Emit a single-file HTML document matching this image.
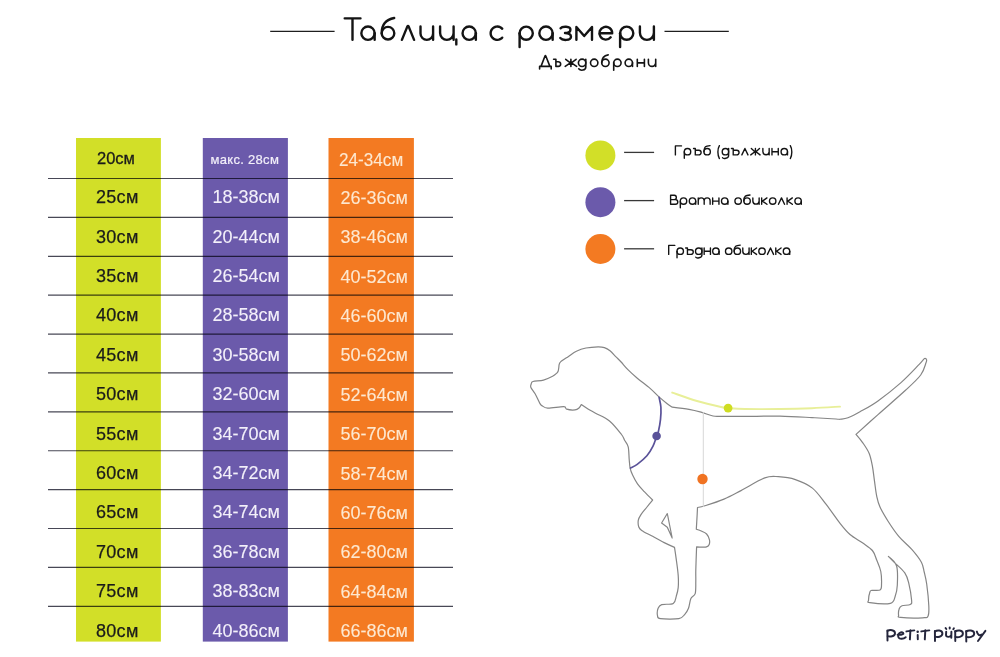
<!DOCTYPE html><html><head><meta charset="utf-8"><style>
*{margin:0;padding:0;box-sizing:border-box}
html,body{width:1000px;height:657px;background:#fff;overflow:hidden}
body{position:relative;font-family:"Liberation Sans",sans-serif}
.abs{position:absolute}
</style></head><body>
<svg class="abs" style="left:0;top:0" width="1000" height="657" viewBox="0 0 1000 657">
<rect x="76" y="138.0" width="84.9" height="503.6" fill="#d2df28"/>
<rect x="202.8" y="138.0" width="85.1" height="503.6" fill="#6b5aab"/>
<rect x="328.5" y="138.0" width="85.4" height="503.6" fill="#f37a22"/>
<line x1="48" y1="178.50" x2="453" y2="178.50" stroke="#484856" stroke-width="1.2" style="mix-blend-mode:multiply"/>
<line x1="48" y1="217.39" x2="453" y2="217.39" stroke="#484856" stroke-width="1.2" style="mix-blend-mode:multiply"/>
<line x1="48" y1="256.28" x2="453" y2="256.28" stroke="#484856" stroke-width="1.2" style="mix-blend-mode:multiply"/>
<line x1="48" y1="295.17" x2="453" y2="295.17" stroke="#484856" stroke-width="1.2" style="mix-blend-mode:multiply"/>
<line x1="48" y1="334.06" x2="453" y2="334.06" stroke="#484856" stroke-width="1.2" style="mix-blend-mode:multiply"/>
<line x1="48" y1="372.95" x2="453" y2="372.95" stroke="#484856" stroke-width="1.2" style="mix-blend-mode:multiply"/>
<line x1="48" y1="411.84" x2="453" y2="411.84" stroke="#484856" stroke-width="1.2" style="mix-blend-mode:multiply"/>
<line x1="48" y1="450.73" x2="453" y2="450.73" stroke="#484856" stroke-width="1.2" style="mix-blend-mode:multiply"/>
<line x1="48" y1="489.62" x2="453" y2="489.62" stroke="#484856" stroke-width="1.2" style="mix-blend-mode:multiply"/>
<line x1="48" y1="528.51" x2="453" y2="528.51" stroke="#484856" stroke-width="1.2" style="mix-blend-mode:multiply"/>
<line x1="48" y1="567.40" x2="453" y2="567.40" stroke="#484856" stroke-width="1.2" style="mix-blend-mode:multiply"/>
<line x1="48" y1="606.29" x2="453" y2="606.29" stroke="#484856" stroke-width="1.2" style="mix-blend-mode:multiply"/>
<line x1="270.2" y1="31.4" x2="334.6" y2="31.4" stroke="#1e1e1e" stroke-width="1.25"/>
<line x1="664.5" y1="31.4" x2="728.8" y2="31.4" stroke="#1e1e1e" stroke-width="1.25"/>
<line x1="624.1" y1="152.4" x2="654.1" y2="152.4" stroke="#383838" stroke-width="1.3"/>
<line x1="624.1" y1="200.6" x2="654.1" y2="200.6" stroke="#383838" stroke-width="1.3"/>
<line x1="624.1" y1="248.8" x2="654.1" y2="248.8" stroke="#383838" stroke-width="1.3"/>
<circle cx="600.4" cy="155.4" r="15" fill="#d2df28"/>
<circle cx="600.4" cy="202.2" r="15" fill="#6b5aab"/>
<circle cx="600.4" cy="249.0" r="15" fill="#f37a22"/>
<g transform="translate(0,0.4)" fill="none" stroke="#141414" stroke-width="2.40" stroke-linecap="round" stroke-linejoin="round"><path d="M344.7 17.95 L360.5 17.95 M352.5 17.95 L352.5 39.45"/><circle cx="368.00" cy="32.80" r="6.65"/><path d="M374.65 32.80 L374.65 39.45"/><circle cx="388.00" cy="32.80" r="6.30"/><path d="M381.7 33 C381.6 24.5 385.5 19.2 394.2 17.6"/><path d="M401.9 39.45 L407.3 26.2 Q408 24.9 408.7 26.2 L414.1 39.45"/><path d="M420.50 26.15 L420.50 33.15 A6.30 6.30 0 0 0 433.10 33.15 M433.10 26.15 L433.10 39.45"/><path d="M440.10 26.15 L440.10 32.70 A6.75 6.75 0 0 0 453.60 32.70 M453.60 26.15 L453.60 39.45 M456.30 38.95 L456.30 44.00"/><circle cx="469.20" cy="32.80" r="6.65"/><path d="M475.85 32.80 L475.85 39.45"/><path d="M502.24 37.25 L501.26 38.15 L500.11 38.83 L498.85 39.27 L497.53 39.45 L496.20 39.36 L494.92 39.01 L493.73 38.41 L492.68 37.58 L491.82 36.57 L491.18 35.40 L490.78 34.13 L490.65 32.80 L490.78 31.47 L491.18 30.20 L491.82 29.03 L492.68 28.02 L493.73 27.19 L494.92 26.59 L496.20 26.24 L497.53 26.15 L498.85 26.33 L500.11 26.77 L501.26 27.45 L502.24 28.35"/><circle cx="526.20" cy="32.80" r="6.60"/><path d="M519.60 32.80 L519.60 46.70"/><circle cx="546.00" cy="32.80" r="6.65"/><path d="M552.65 32.80 L552.65 39.45"/><path d="M560.6 27.8 C562 25.9 570.6 25.2 570.4 29.4 C570.2 31.9 567.2 32.6 565.0 32.6 C568.2 32.6 571.1 33.8 571.0 36.3 C570.8 40.3 562.4 40.4 560.3 37.6"/><path d="M576.4 39.45 L576.4 26.6 L584.2 35.6 L592.0 26.6 L592.0 39.45"/><path d="M599.40 32.80 L612.20 32.80 A6.40 6.40 0 1 0 610.70 36.91"/><circle cx="626.70" cy="32.80" r="6.60"/><path d="M620.10 32.80 L620.10 46.70"/><path d="M639.90 26.15 L639.90 32.45 A7.00 7.00 0 0 0 653.90 32.45 M653.90 26.15 L653.90 39.45"/></g>
<g fill="none" stroke="#141414" stroke-width="1.60" stroke-linecap="round" stroke-linejoin="round"><path d="M541.0 66.40 L545.0 56.0 Q545.4 55.2 545.8 56.0 L549.9 66.40 M539.6 69.0 L539.6 66.40 L551.2 66.40 L551.2 69.0"/><path d="M553.6 59.30 L555.9 59.30 L555.9 66.40 L558.3 66.40 A2.35 2.35 0 0 0 558.3 61.70 L555.9 61.70"/><path d="M570.9 59.30 L570.9 66.40 M565.7 59.30 L570.4 62.85 L565.2 66.40 M576.1 59.30 L571.4 62.85 L576.6 66.40"/><circle cx="582.10" cy="62.85" r="3.70"/><path d="M585.8 59.30 L585.8 67.0 C585.8 70.6 580.4 71.0 578.7 68.8"/><circle cx="594.20" cy="62.85" r="3.70"/><circle cx="605.40" cy="62.85" r="3.70"/><path d="M601.7 63.0 C601.7 58.2 604.0 55.5 608.2 54.9"/><circle cx="617.40" cy="62.85" r="3.70"/><path d="M613.7 62.85 L613.7 70.20"/><circle cx="628.80" cy="62.85" r="3.70"/><path d="M632.5 62.85 L632.5 66.40"/><path d="M637.3 59.30 L637.3 66.40 M644.4 59.30 L644.4 66.40 M637.3 62.85 L644.4 62.85"/><path d="M648.4 59.30 L648.4 62.75 A3.65 3.65 0 0 0 655.7 62.75 M655.7 59.30 L655.7 66.40"/></g>
</svg>
<div class="abs" style="left:97.00px;top:149.53px;font-size:16.50px;line-height:16.50px;color:#1b1b1b;letter-spacing:0.00px;white-space:nowrap;-webkit-text-stroke:0.3px #1b1b1b;">20см</div>
<div class="abs" style="left:210.50px;top:153.00px;font-size:13.00px;line-height:13.00px;color:#f3f0fa;letter-spacing:0.30px;white-space:nowrap;-webkit-text-stroke:0.2px #f3f0fa;">макс. 28см</div>
<div class="abs" style="left:339.40px;top:150.56px;font-size:18.00px;line-height:18.00px;color:#fde8d0;letter-spacing:0.00px;white-space:nowrap;transform:scaleX(0.952);transform-origin:0 0;-webkit-text-stroke:0.1px #fde8d0;">24-34см</div>
<div class="abs" style="left:96.00px;top:188.26px;font-size:18.00px;line-height:18.00px;color:#1b1b1b;letter-spacing:0.30px;white-space:nowrap;-webkit-text-stroke:0.25px #1b1b1b;">25см</div>
<div class="abs" style="left:212.40px;top:188.26px;font-size:18.00px;line-height:18.00px;color:#f3f0fa;letter-spacing:0.00px;white-space:nowrap;-webkit-text-stroke:0.1px #f3f0fa;">18-38см</div>
<div class="abs" style="left:340.40px;top:188.76px;font-size:18.00px;line-height:18.00px;color:#fde8d0;letter-spacing:0.00px;white-space:nowrap;-webkit-text-stroke:0.1px #fde8d0;">26-36см</div>
<div class="abs" style="left:96.00px;top:227.66px;font-size:18.00px;line-height:18.00px;color:#1b1b1b;letter-spacing:0.30px;white-space:nowrap;-webkit-text-stroke:0.25px #1b1b1b;">30см</div>
<div class="abs" style="left:212.40px;top:227.66px;font-size:18.00px;line-height:18.00px;color:#f3f0fa;letter-spacing:0.00px;white-space:nowrap;-webkit-text-stroke:0.1px #f3f0fa;">20-44см</div>
<div class="abs" style="left:340.40px;top:228.16px;font-size:18.00px;line-height:18.00px;color:#fde8d0;letter-spacing:0.00px;white-space:nowrap;-webkit-text-stroke:0.1px #fde8d0;">38-46см</div>
<div class="abs" style="left:96.00px;top:267.06px;font-size:18.00px;line-height:18.00px;color:#1b1b1b;letter-spacing:0.30px;white-space:nowrap;-webkit-text-stroke:0.25px #1b1b1b;">35см</div>
<div class="abs" style="left:212.40px;top:267.06px;font-size:18.00px;line-height:18.00px;color:#f3f0fa;letter-spacing:0.00px;white-space:nowrap;-webkit-text-stroke:0.1px #f3f0fa;">26-54см</div>
<div class="abs" style="left:340.40px;top:267.56px;font-size:18.00px;line-height:18.00px;color:#fde8d0;letter-spacing:0.00px;white-space:nowrap;-webkit-text-stroke:0.1px #fde8d0;">40-52см</div>
<div class="abs" style="left:96.00px;top:306.46px;font-size:18.00px;line-height:18.00px;color:#1b1b1b;letter-spacing:0.30px;white-space:nowrap;-webkit-text-stroke:0.25px #1b1b1b;">40см</div>
<div class="abs" style="left:212.40px;top:306.46px;font-size:18.00px;line-height:18.00px;color:#f3f0fa;letter-spacing:0.00px;white-space:nowrap;-webkit-text-stroke:0.1px #f3f0fa;">28-58см</div>
<div class="abs" style="left:340.40px;top:306.96px;font-size:18.00px;line-height:18.00px;color:#fde8d0;letter-spacing:0.00px;white-space:nowrap;-webkit-text-stroke:0.1px #fde8d0;">46-60см</div>
<div class="abs" style="left:96.00px;top:345.86px;font-size:18.00px;line-height:18.00px;color:#1b1b1b;letter-spacing:0.30px;white-space:nowrap;-webkit-text-stroke:0.25px #1b1b1b;">45см</div>
<div class="abs" style="left:212.40px;top:345.86px;font-size:18.00px;line-height:18.00px;color:#f3f0fa;letter-spacing:0.00px;white-space:nowrap;-webkit-text-stroke:0.1px #f3f0fa;">30-58см</div>
<div class="abs" style="left:340.40px;top:346.36px;font-size:18.00px;line-height:18.00px;color:#fde8d0;letter-spacing:0.00px;white-space:nowrap;-webkit-text-stroke:0.1px #fde8d0;">50-62см</div>
<div class="abs" style="left:96.00px;top:385.26px;font-size:18.00px;line-height:18.00px;color:#1b1b1b;letter-spacing:0.30px;white-space:nowrap;-webkit-text-stroke:0.25px #1b1b1b;">50см</div>
<div class="abs" style="left:212.40px;top:385.26px;font-size:18.00px;line-height:18.00px;color:#f3f0fa;letter-spacing:0.00px;white-space:nowrap;-webkit-text-stroke:0.1px #f3f0fa;">32-60см</div>
<div class="abs" style="left:340.40px;top:385.76px;font-size:18.00px;line-height:18.00px;color:#fde8d0;letter-spacing:0.00px;white-space:nowrap;-webkit-text-stroke:0.1px #fde8d0;">52-64см</div>
<div class="abs" style="left:96.00px;top:424.66px;font-size:18.00px;line-height:18.00px;color:#1b1b1b;letter-spacing:0.30px;white-space:nowrap;-webkit-text-stroke:0.25px #1b1b1b;">55см</div>
<div class="abs" style="left:212.40px;top:424.66px;font-size:18.00px;line-height:18.00px;color:#f3f0fa;letter-spacing:0.00px;white-space:nowrap;-webkit-text-stroke:0.1px #f3f0fa;">34-70см</div>
<div class="abs" style="left:340.40px;top:425.16px;font-size:18.00px;line-height:18.00px;color:#fde8d0;letter-spacing:0.00px;white-space:nowrap;-webkit-text-stroke:0.1px #fde8d0;">56-70см</div>
<div class="abs" style="left:96.00px;top:464.06px;font-size:18.00px;line-height:18.00px;color:#1b1b1b;letter-spacing:0.30px;white-space:nowrap;-webkit-text-stroke:0.25px #1b1b1b;">60см</div>
<div class="abs" style="left:212.40px;top:464.06px;font-size:18.00px;line-height:18.00px;color:#f3f0fa;letter-spacing:0.00px;white-space:nowrap;-webkit-text-stroke:0.1px #f3f0fa;">34-72см</div>
<div class="abs" style="left:340.40px;top:464.56px;font-size:18.00px;line-height:18.00px;color:#fde8d0;letter-spacing:0.00px;white-space:nowrap;-webkit-text-stroke:0.1px #fde8d0;">58-74см</div>
<div class="abs" style="left:96.00px;top:503.46px;font-size:18.00px;line-height:18.00px;color:#1b1b1b;letter-spacing:0.30px;white-space:nowrap;-webkit-text-stroke:0.25px #1b1b1b;">65см</div>
<div class="abs" style="left:212.40px;top:503.46px;font-size:18.00px;line-height:18.00px;color:#f3f0fa;letter-spacing:0.00px;white-space:nowrap;-webkit-text-stroke:0.1px #f3f0fa;">34-74см</div>
<div class="abs" style="left:340.40px;top:503.96px;font-size:18.00px;line-height:18.00px;color:#fde8d0;letter-spacing:0.00px;white-space:nowrap;-webkit-text-stroke:0.1px #fde8d0;">60-76см</div>
<div class="abs" style="left:96.00px;top:542.86px;font-size:18.00px;line-height:18.00px;color:#1b1b1b;letter-spacing:0.30px;white-space:nowrap;-webkit-text-stroke:0.25px #1b1b1b;">70см</div>
<div class="abs" style="left:212.40px;top:542.86px;font-size:18.00px;line-height:18.00px;color:#f3f0fa;letter-spacing:0.00px;white-space:nowrap;-webkit-text-stroke:0.1px #f3f0fa;">36-78см</div>
<div class="abs" style="left:340.40px;top:543.36px;font-size:18.00px;line-height:18.00px;color:#fde8d0;letter-spacing:0.00px;white-space:nowrap;-webkit-text-stroke:0.1px #fde8d0;">62-80см</div>
<div class="abs" style="left:96.00px;top:582.26px;font-size:18.00px;line-height:18.00px;color:#1b1b1b;letter-spacing:0.30px;white-space:nowrap;-webkit-text-stroke:0.25px #1b1b1b;">75см</div>
<div class="abs" style="left:212.40px;top:582.26px;font-size:18.00px;line-height:18.00px;color:#f3f0fa;letter-spacing:0.00px;white-space:nowrap;-webkit-text-stroke:0.1px #f3f0fa;">38-83см</div>
<div class="abs" style="left:340.40px;top:582.76px;font-size:18.00px;line-height:18.00px;color:#fde8d0;letter-spacing:0.00px;white-space:nowrap;-webkit-text-stroke:0.1px #fde8d0;">64-84см</div>
<div class="abs" style="left:96.00px;top:621.66px;font-size:18.00px;line-height:18.00px;color:#1b1b1b;letter-spacing:0.30px;white-space:nowrap;-webkit-text-stroke:0.25px #1b1b1b;">80см</div>
<div class="abs" style="left:212.40px;top:621.66px;font-size:18.00px;line-height:18.00px;color:#f3f0fa;letter-spacing:0.00px;white-space:nowrap;-webkit-text-stroke:0.1px #f3f0fa;">40-86см</div>
<div class="abs" style="left:340.40px;top:622.16px;font-size:18.00px;line-height:18.00px;color:#fde8d0;letter-spacing:0.00px;white-space:nowrap;-webkit-text-stroke:0.1px #fde8d0;">66-86см</div>
<svg class="abs" style="left:0;top:0" width="1000" height="657" viewBox="0 0 1000 657">
<g fill="none" stroke="#141414" stroke-width="1.38" stroke-linecap="round" stroke-linejoin="round"><circle cx="687.51" cy="151.70" r="3.21"/><circle cx="707.15" cy="151.70" r="3.21"/><circle cx="725.42" cy="151.70" r="3.21"/><circle cx="784.29" cy="151.70" r="3.21"/><path d="M681.49 145.89 L675.39 145.89 L675.39 154.91"/><path d="M684.30 151.70 L684.30 158.31"/><path d="M693.53 148.49 L695.29 148.49 L695.29 154.91 L698.82 154.91 A2.31 2.31 0 0 0 698.82 150.29 L695.29 150.29"/><path d="M703.94 151.70 C703.94 146.24 705.87 145.99 710.04 145.59"/><path d="M719.40 145.69 C717.40 148.89 717.40 155.31 719.40 158.51"/><path d="M728.63 148.49 L728.63 155.41 C728.63 158.81 723.18 158.91 722.53 157.71"/><path d="M731.44 148.49 L733.21 148.49 L733.21 154.91 L736.74 154.91 A2.31 2.31 0 0 0 736.74 150.29 L733.21 150.29"/><path d="M741.86 154.91 L744.91 148.49 L747.96 154.91"/><path d="M755.42 148.49 L755.42 154.91 M751.32 148.49 L754.86 151.70 L750.76 154.91 M759.51 148.49 L755.98 151.70 L760.07 154.91"/><path d="M762.88 148.49 L762.88 151.76 A3.15 3.15 0 0 0 769.17 151.76 M769.17 148.49 L769.17 154.91"/><path d="M771.98 148.49 L771.98 154.91 M778.27 148.49 L778.27 154.91 M771.98 151.70 L778.27 151.70"/><path d="M787.50 151.70 L787.50 154.91"/><path d="M790.31 145.69 C792.31 148.89 792.31 155.31 790.31 158.51"/></g>
<g fill="none" stroke="#141414" stroke-width="1.38" stroke-linecap="round" stroke-linejoin="round"><circle cx="683.53" cy="201.10" r="3.21"/><circle cx="692.49" cy="201.10" r="3.21"/><circle cx="724.70" cy="201.10" r="3.21"/><circle cx="738.13" cy="201.10" r="3.21"/><circle cx="747.09" cy="201.10" r="3.21"/><circle cx="772.69" cy="201.10" r="3.21"/><circle cx="798.10" cy="201.10" r="3.21"/><path d="M670.59 195.29 L670.59 204.31 M670.59 195.29 L674.33 195.29 A2.16 2.16 0 0 1 674.33 199.60 L670.59 199.60 M670.59 199.60 L675.43 199.60 A2.35 2.35 0 0 1 675.43 204.31 L670.59 204.31"/><path d="M680.32 201.10 L680.32 207.71"/><path d="M695.70 201.10 L695.70 204.31"/><path d="M698.24 197.89 L698.24 204.31 M698.24 200.86 A2.97 2.97 0 0 1 704.18 200.86 L704.18 204.31 M704.18 200.86 A2.97 2.97 0 0 1 710.12 200.86 L710.12 204.31"/><path d="M712.66 197.89 L712.66 204.31 M718.95 197.89 L718.95 204.31 M712.66 201.10 L718.95 201.10"/><path d="M727.91 201.10 L727.91 204.31"/><path d="M743.88 201.10 C743.88 195.64 745.81 195.39 749.98 194.99"/><path d="M752.85 197.89 L752.85 201.16 A3.15 3.15 0 0 0 759.14 201.16 M759.14 197.89 L759.14 204.31"/><path d="M761.68 197.89 L761.68 204.31 M766.94 197.89 L762.47 201.10 L766.94 204.31"/><path d="M778.44 204.31 L781.49 197.89 L784.54 204.31"/><path d="M787.08 197.89 L787.08 204.31 M792.35 197.89 L787.87 201.10 L792.35 204.31"/><path d="M801.31 201.10 L801.31 204.31"/></g>
<g fill="none" stroke="#141414" stroke-width="1.38" stroke-linecap="round" stroke-linejoin="round"><circle cx="680.23" cy="251.20" r="3.21"/><circle cx="698.72" cy="251.20" r="3.21"/><circle cx="715.89" cy="251.20" r="3.21"/><circle cx="728.70" cy="251.20" r="3.21"/><circle cx="737.35" cy="251.20" r="3.21"/><circle cx="762.02" cy="251.20" r="3.21"/><circle cx="786.50" cy="251.20" r="3.21"/><path d="M674.79 245.39 L668.69 245.39 L668.69 254.41"/><path d="M677.02 251.20 L677.02 257.81"/><path d="M685.67 247.99 L687.44 247.99 L687.44 254.41 L690.97 254.41 A2.31 2.31 0 0 0 690.97 249.79 L687.44 249.79"/><path d="M701.93 247.99 L701.93 254.91 C701.93 258.31 696.47 258.41 695.83 257.21"/><path d="M704.16 247.99 L704.16 254.41 M710.45 247.99 L710.45 254.41 M704.16 251.20 L710.45 251.20"/><path d="M719.10 251.20 L719.10 254.41"/><path d="M734.14 251.20 C734.14 245.74 736.07 245.49 740.24 245.09"/><path d="M742.79 247.99 L742.79 251.26 A3.15 3.15 0 0 0 749.09 251.26 M749.09 247.99 L749.09 254.41"/><path d="M751.32 247.99 L751.32 254.41 M756.58 247.99 L752.11 251.20 L756.58 254.41"/><path d="M767.46 254.41 L770.51 247.99 L773.56 254.41"/><path d="M775.79 247.99 L775.79 254.41 M781.06 247.99 L776.58 251.20 L781.06 254.41"/><path d="M789.71 251.20 L789.71 254.41"/></g>
</svg>
<svg class="abs" style="left:0;top:0" width="1000" height="657" viewBox="0 0 1000 657">
<path d="M531.20 384.00 C531.55 383.00 530.95 382.15 533.00 381.50 C535.05 380.85 540.23 380.97 543.50 380.10 C546.77 379.23 550.38 377.47 552.60 376.30 C554.82 375.13 555.87 373.98 556.80 373.10 C557.73 372.22 557.87 371.93 558.20 371.00 C558.53 370.07 558.63 368.60 558.80 367.50 C558.97 366.40 558.87 365.38 559.20 364.40 C559.53 363.42 559.25 362.93 560.80 361.60 C562.35 360.27 565.90 358.13 568.50 356.40 C571.10 354.67 573.48 352.60 576.40 351.20 C579.32 349.80 582.40 348.73 586.00 348.00 C589.60 347.27 594.93 346.87 598.00 346.80 C601.07 346.73 602.40 346.93 604.40 347.60 C606.40 348.27 608.07 349.25 610.00 350.80 C611.93 352.35 614.15 355.03 616.00 356.90 C617.85 358.77 619.12 359.88 621.10 362.00 C623.08 364.12 625.20 366.90 627.90 369.60 C630.60 372.30 633.60 375.07 637.30 378.20 C641.00 381.33 646.48 385.28 650.10 388.40 C653.72 391.52 656.15 394.35 659.00 396.90 C661.85 399.45 664.98 401.98 667.20 403.70 C669.42 405.42 672.30 407.20 672.30 407.20 C672.30 407.20 684.22 408.57 689.00 409.40 C693.78 410.23 697.00 411.10 701.00 412.20 C705.00 413.30 709.67 415.30 713.00 416.00 C716.33 416.70 715.67 416.33 721.00 416.40 C726.33 416.47 735.17 416.43 745.00 416.40 C754.83 416.37 768.83 416.00 780.00 416.20 C791.17 416.40 802.67 417.13 812.00 417.60 C821.33 418.07 831.20 418.73 836.00 419.00 C840.80 419.27 838.80 419.40 840.80 419.20 C842.80 419.00 844.80 419.03 848.00 417.80 C851.20 416.57 855.00 414.62 860.00 411.80 C865.00 408.98 871.17 405.77 878.00 400.90 C884.83 396.03 894.13 388.68 901.00 382.60 C907.87 376.52 915.28 368.40 919.20 364.40 C923.12 360.40 923.28 359.42 924.50 358.60 C925.72 357.78 926.50 359.50 926.50 359.50 C926.50 359.50 926.97 360.22 926.00 362.80 C925.03 365.38 924.12 370.42 920.70 375.00 C917.28 379.58 912.62 383.70 905.50 390.30 C898.38 396.90 886.25 407.25 878.00 414.60 C869.75 421.95 856.00 434.40 856.00 434.40 C856.00 434.40 860.60 439.62 862.80 442.80 C865.00 445.98 867.60 449.60 869.20 453.50 C870.80 457.40 871.52 461.58 872.40 466.20 C873.28 470.82 873.78 476.22 874.50 481.20 C875.22 486.18 875.80 491.83 876.70 496.10 C877.60 500.37 877.95 502.53 879.90 506.80 C881.85 511.07 885.22 516.73 888.40 521.70 C891.58 526.67 895.10 531.98 899.00 536.60 C902.90 541.22 908.07 545.13 911.80 549.40 C915.53 553.67 919.33 558.43 921.40 562.20 C923.47 565.97 923.32 568.37 924.20 572.00 C925.08 575.63 925.93 578.37 926.70 584.00 C927.47 589.63 928.57 600.47 928.80 605.80 C929.03 611.13 929.13 614.00 928.10 616.00 C927.07 618.00 927.17 617.57 922.60 617.80 C918.03 618.03 904.70 617.82 900.70 617.40 C896.70 616.98 898.83 616.78 898.60 615.30 C898.37 613.82 898.73 610.08 899.30 608.50 C899.87 606.92 900.17 606.48 902.00 605.80 C903.83 605.12 908.70 605.32 910.30 604.40 C911.90 603.48 911.83 603.73 911.60 600.30 C911.37 596.87 910.03 588.37 908.90 583.80 C907.77 579.23 907.32 576.55 904.80 572.90 C902.28 569.25 896.53 564.65 893.80 561.90 C891.07 559.15 888.40 556.40 888.40 556.40 C888.40 556.40 895.12 561.20 896.60 566.00 C898.08 570.80 897.53 580.17 897.30 585.20 C897.07 590.23 896.35 593.18 895.20 596.20 C894.05 599.22 894.62 602.22 890.40 603.30 C886.18 604.38 873.55 603.20 869.90 602.70 C866.25 602.20 868.50 602.08 868.50 600.30 C868.50 598.52 869.33 593.65 869.90 592.00 C870.47 590.35 870.20 590.73 871.90 590.40 C873.60 590.07 878.50 590.87 880.10 590.00 C881.70 589.13 881.38 588.28 881.50 585.20 C881.62 582.12 881.60 575.70 880.80 571.50 C880.00 567.30 878.10 563.50 876.70 560.00 C875.30 556.50 874.72 553.33 872.40 550.50 C870.08 547.67 866.53 545.67 862.80 543.00 C859.07 540.33 853.85 537.85 850.00 534.50 C846.15 531.15 843.70 527.95 839.70 522.90 C835.70 517.85 830.55 510.00 826.00 504.20 C821.45 498.40 817.50 492.20 812.40 488.10 C807.30 484.00 801.07 481.50 795.40 479.60 C789.73 477.70 783.50 476.98 778.40 476.70 C773.30 476.42 771.03 475.58 764.80 477.90 C758.57 480.22 747.80 487.07 741.00 490.60 C734.20 494.13 729.87 496.62 724.00 499.10 C718.13 501.58 710.22 504.10 705.80 505.50 C701.38 506.90 697.50 507.50 697.50 507.50 C697.50 507.50 697.30 512.17 697.10 515.80 C696.90 519.43 696.30 529.30 696.30 529.30 C696.30 529.30 700.08 530.52 701.80 531.30 C703.52 532.08 705.33 532.62 706.60 534.00 C707.87 535.38 708.97 537.85 709.40 539.60 C709.83 541.35 709.68 543.28 709.20 544.50 C708.72 545.72 707.73 546.47 706.50 546.90 C705.27 547.33 703.45 547.12 701.80 547.10 C700.15 547.08 696.60 546.80 696.60 546.80 C696.60 546.80 695.93 564.22 695.80 570.00 C695.67 575.78 695.90 577.55 695.80 581.50 C695.70 585.45 696.02 590.87 695.20 593.70 C694.38 596.53 692.02 596.07 690.90 598.50 C689.78 600.93 689.52 605.67 688.50 608.30 C687.48 610.93 686.42 612.58 684.80 614.30 C683.18 616.02 682.85 617.88 678.80 618.60 C674.75 619.32 664.05 619.10 660.50 618.60 C656.95 618.10 657.90 617.32 657.50 615.60 C657.10 613.88 657.40 610.13 658.10 608.30 C658.80 606.47 659.17 605.42 661.70 604.60 C664.23 603.78 670.87 604.82 673.30 603.40 C675.73 601.98 675.48 598.73 676.30 596.10 C677.12 593.47 677.88 591.05 678.20 587.60 C678.52 584.15 678.52 580.07 678.20 575.40 C677.88 570.73 676.92 564.27 676.30 559.60 C675.68 554.93 674.50 547.40 674.50 547.40 C674.50 547.40 668.03 544.53 664.20 542.60 C660.37 540.67 655.25 537.83 651.50 535.80 C647.75 533.77 643.82 531.87 641.70 530.40 C639.58 528.93 639.37 528.70 638.80 527.00 C638.23 525.30 637.97 522.23 638.30 520.20 C638.63 518.17 639.42 516.92 640.80 514.80 C642.18 512.68 644.63 509.97 646.60 507.50 C648.57 505.03 652.60 500.00 652.60 500.00 C652.60 500.00 646.82 494.38 644.30 491.70 C641.78 489.02 639.45 486.67 637.50 483.90 C635.55 481.13 633.82 477.70 632.60 475.10 C631.38 472.50 630.77 470.90 630.20 468.30 C629.63 465.70 629.53 463.08 629.20 459.50 C628.87 455.92 628.97 450.02 628.20 446.80 C627.43 443.58 625.72 442.25 624.60 440.20 C623.48 438.15 624.02 437.70 621.50 434.50 C618.98 431.30 613.75 424.52 609.50 421.00 C605.25 417.48 599.58 415.40 596.00 413.40 C592.42 411.40 590.45 410.47 588.00 409.00 C585.55 407.53 581.30 404.60 581.30 404.60 C581.30 404.60 580.25 406.92 579.20 407.80 C578.15 408.68 577.10 409.67 575.00 409.90 C572.90 410.13 568.47 409.73 566.60 409.20 C564.73 408.67 566.95 406.88 563.80 406.70 C560.65 406.52 551.32 408.27 547.70 408.10 C544.08 407.93 543.38 406.45 542.10 405.70 C540.82 404.95 541.17 405.58 540.00 403.60 C538.83 401.62 536.62 396.48 535.10 393.80 C533.58 391.12 531.55 389.13 530.90 387.50 C530.25 385.87 530.85 385.00 531.20 384.00 Z" fill="none" stroke="#858585" stroke-width="1.2" stroke-linejoin="round"/>
<path d="M667.3 513.5 L661.6 523 L667.3 527.3 L672.2 538 Z" fill="none" stroke="#858585" stroke-width="1.2" stroke-linejoin="round"/>
<line x1="703.3" y1="412" x2="703.3" y2="507" stroke="#d8d8d8" stroke-width="1"/>
<path d="M672.20 392.60 C676.33 394.00 688.87 398.60 697.00 401.00 C705.13 403.40 715.80 405.83 721.00 407.00 C726.20 408.17 724.20 407.67 728.20 408.00 C732.20 408.33 736.37 408.83 745.00 409.00 C753.63 409.17 768.83 409.13 780.00 409.00 C791.17 408.87 802.00 408.60 812.00 408.20 C822.00 407.80 835.33 406.87 840.00 406.60" fill="none" stroke="#e8ef98" stroke-width="1.9" stroke-linecap="round"/>
<path d="M659.10 397.40 C659.40 399.03 660.67 403.55 660.90 407.20 C661.13 410.85 660.92 415.25 660.50 419.30 C660.08 423.35 659.05 428.65 658.40 431.50 C657.75 434.35 657.50 433.97 656.60 436.40 C655.70 438.83 654.62 442.87 653.00 446.10 C651.38 449.33 649.53 452.75 646.90 455.80 C644.27 458.85 639.93 462.37 637.20 464.40 C634.47 466.43 631.62 467.40 630.50 468.00" fill="none" stroke="#5a5299" stroke-width="1.7" stroke-linecap="round"/>
<circle cx="728.1" cy="408.1" r="4.4" fill="#cfdd22"/>
<circle cx="656.6" cy="436" r="4.3" fill="#5a5299"/>
<circle cx="702.5" cy="479" r="5.2" fill="#f07322"/>
<g fill="none" stroke="#25263c" stroke-width="1.95" stroke-linecap="round" stroke-linejoin="round">
<path d="M887.4 630.4 L887.5 640.4"/>
<path d="M887.5 631.0 C889.5 629.6 895.0 629.5 895.0 633.2 C895.0 636.6 889.6 637.0 887.7 636.2"/>
<path d="M897.6 634.7 C899.6 635 903 634.6 903.4 633.8 C903.3 632.3 901.8 632.1 900.7 632.4 C898.5 633 897.5 635.6 898.6 637.6 C899.7 639.5 903.6 639.1 905.7 637.2"/>
<path d="M906.4 631.4 L914.3 630.4"/>
<path d="M910.4 630.3 L909.9 639.4"/>
<path d="M917.7 635 L917.8 639.2"/>
<path d="M921.3 631.4 L929.3 630.4"/>
<path d="M925.3 630.3 L924.8 639.4"/>
<path d="M934.9 631 L935 641"/>
<path d="M935 631.6 C936.8 630.0 942.4 629.8 942.4 633.5 C942.4 637.1 937 637.4 935.2 636.7"/>
<path d="M946.2 631.8 L946 635 C946.1 637.4 950.6 637.6 951.3 635 M951.4 631.8 L951.3 637.8"/>
<path d="M955.2 631 L955.3 641"/>
<path d="M955.3 631.6 C957.1 630.0 962.9 629.8 962.9 633.6 C962.9 637.3 957.4 637.6 955.5 636.8"/>
<path d="M966.2 631 L966.3 641.6"/>
<path d="M966.3 631.6 C968.1 630.0 974.2 629.8 974.2 633.6 C974.2 637.3 968.5 637.6 966.5 636.8"/>
<path d="M976.8 631.6 C977.6 634.6 979.6 636.2 981.6 634.6"/>
<path d="M985.4 630.9 L978 641"/>
<path d="M945.6 628.1 L946.3 629" /><path d="M949.7 627.4 L949.7 628.5" /><path d="M953.9 628.3 L953.3 629.2" />
</g>
<circle cx="917.7" cy="631.7" r="1.25" fill="#25263c"/>
</svg>
</body></html>
